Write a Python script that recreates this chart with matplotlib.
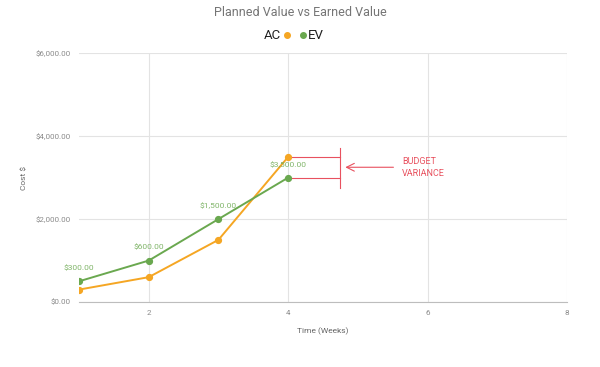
import matplotlib
matplotlib.use("Agg")
import matplotlib.pyplot as plt

plt.rcParams['font.family'] = ['Roboto', 'DejaVu Sans']

weeks = [1, 2, 3, 4]
ac = [300, 600, 1500, 3500]
ev = [500, 1000, 2000, 3000]
label_text = ['$300.00', '$600.00', '$1,500.00', '$3,500.00']
yticks = [0, 2000, 4000, 6000]
xticks = [2, 4, 6, 8]

orange = '#f5a623'
green = '#6aa84f'
red = '#e8515f'
grey = '#8a8a8a'

fig = plt.figure(figsize=(6, 3.67), dpi=100)
ax = fig.add_axes([0.1317, 0.177, 0.8133, 0.678])

ax.plot(weeks, ac, color=orange, lw=1.4, marker='o', ms=4.2, zorder=3)
ax.plot(weeks, ev, color=green, lw=1.4, marker='o', ms=4.2, zorder=3)

# value labels (placed above the EV points as in the original)
for x, y, t in zip(weeks, ev, label_text):
    ax.text(x, y + 320, t, color=green, fontsize=6, ha='center', va='center', alpha=0.85)

ax.set_xlim(1, 8)
ax.set_ylim(0, 6000)
ax.set_xticks(xticks)
ax.set_yticks(yticks)
ax.set_yticklabels(['${:,.2f}'.format(v) for v in yticks])
ax.tick_params(length=0, labelsize=5.8, colors=grey, pad=6)
ax.grid(True, color='#e3e3e3', lw=0.8)
for s in ['top', 'right', 'left']:
    ax.spines[s].set_visible(False)
ax.spines['bottom'].set_color('#bdbdbd')
ax.set_xlabel('Time (Weeks)', fontsize=6, color='#666666', labelpad=8)
ax.set_ylabel('Cost $', fontsize=6, color='#666666', labelpad=6)

# budget variance markup
ax.plot([4, 4.75], [ac[3], ac[3]], color=red, lw=0.8)
ax.plot([4, 4.75], [ev[3], ev[3]], color=red, lw=0.8)
ax.plot([4.74, 4.74], [2750, 3720], color=red, lw=0.8)
ax.annotate('', xy=(4.78, 3250), xytext=(5.55, 3250),
            arrowprops=dict(arrowstyle='->', color=red, lw=0.8, mutation_scale=14))
ax.text(5.63, 3250, 'BUDGET\nVARIANCE', color=red, fontsize=6.5, va='center',
        ha='left', linespacing=1.5)

fig.text(0.5, 0.965, 'Planned Value vs Earned Value', ha='center', va='center',
         fontsize=9, color='#757575')
fig.text(0.468, 0.902, 'AC', ha='right', va='center', fontsize=9.5, color='#222222')
fig.lines.append(plt.Line2D([0.479], [0.905], marker='o', ms=4, color=orange,
                            transform=fig.transFigure))
fig.lines.append(plt.Line2D([0.505], [0.905], marker='o', ms=4, color=green,
                            transform=fig.transFigure))
fig.text(0.513, 0.902, 'EV', ha='left', va='center', fontsize=9.5, color='#222222')

fig.savefig('out.png', dpi=100)
